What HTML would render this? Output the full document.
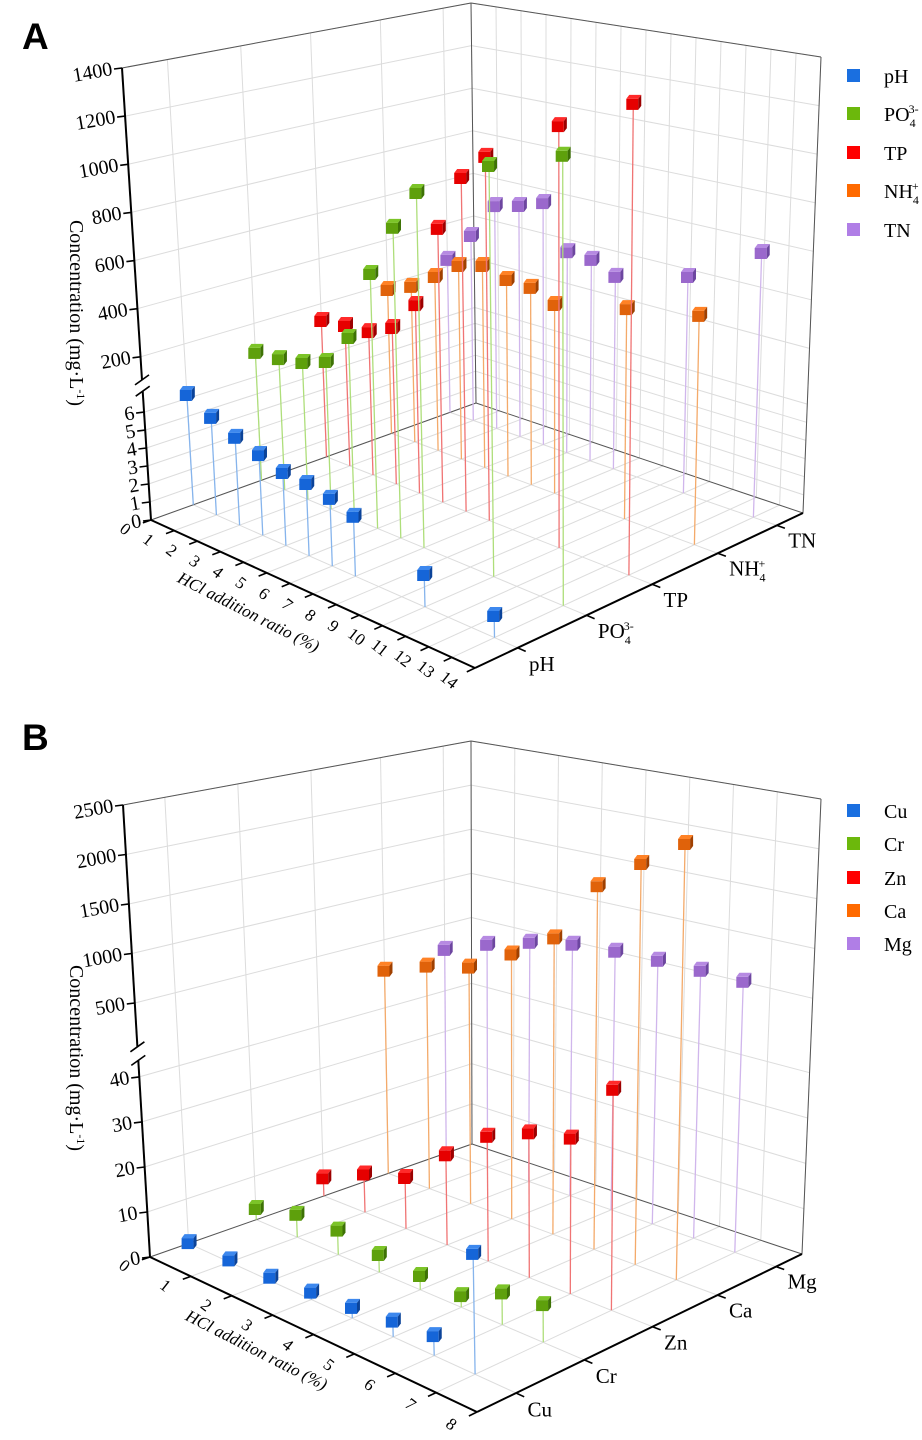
<!DOCTYPE html>
<html><head><meta charset="utf-8"><style>
html,body{margin:0;padding:0;background:#fff;}
svg{display:block;font-family:"Liberation Serif",serif;}
</style></head><body>
<svg id="root" width="922" height="1440" viewBox="0 0 922 1440" xmlns="http://www.w3.org/2000/svg">
<text x="22" y="49" font-family="Liberation Sans, sans-serif" font-weight="bold" font-size="37">A</text>
<text x="22" y="750" font-family="Liberation Sans, sans-serif" font-weight="bold" font-size="37">B</text>
<g id="chartA"></g>
<g id="chartB"></g>
</svg>
<script>
// ---- Chart A data ----
const A_x = [0,1,2,3,4,5,6,7,10,13];
const A_pH = [6.25,5.48,4.89,4.46,4.0,3.92,3.63,3.19,1.69,1.13];
const A_PO4 = [77,86,105,144,278,574,792,960,1141,1248];
const A_TP = [128,140,147,198,328,680,920,1032,1225,1374];
const A_NH4 = [178,224,299,378,407,375,370,326,393,446];
const A_TN = [235,375,540,567,606,414,407,360,439,613];
const A_categories = ["pH","PO4","TP","NH4","TN"];
const A_xTicks = [0,1,2,3,4,5,6,7,8,9,10,11,12,13,14];
const A_yTicksLow = [0,1,2,3,4,5,6];
const A_yTicksHigh = [200,400,600,800,1000,1200,1400];
// ---- Chart B data ----
const B_x = [0,1,2,3,4,5,6,7];
const B_Cu = [0.3,0.6,0.9,1.7,2.4,3.4,4.2,24.5];
const B_Cr = [2.7,5.3,5.6,4.0,3.2,2.6,6.8,7.9];
const B_Zn = [4.4,9.0,11.8,20.4,27.8,31.7,33.6,46.9];
const B_Ca = [171,344,457,714,995,1634,1953,2242];
const B_Mg = [225,401,539,630,665,677,680,672];
const B_categories = ["Cu","Cr","Zn","Ca","Mg"];
const B_xTicks = [0,1,2,3,4,5,6,7,8];
const B_yTicksLow = [0,10,20,30,40];
const B_yTicksHigh = [500,1000,1500,2000,2500];

const NS = "http://www.w3.org/2000/svg";
const COLORS = [
  {front:"#1565d8", top:"#3d88ee", side:"#0b4399", stick:"#86b4ec", legend:"#1a6fe0"},
  {front:"#5ea00c", top:"#7cc428", side:"#3d7205", stick:"#aede7a", legend:"#6cb80c"},
  {front:"#e60000", top:"#ff2a2a", side:"#9c0000", stick:"#f07474", legend:"#ff0000"},
  {front:"#e0620a", top:"#ff8226", side:"#a04000", stick:"#f4aa6a", legend:"#ff6a00"},
  {front:"#9a68cc", top:"#b68ae2", side:"#6d46a0", stick:"#d0b6ec", legend:"#b07ee6"}
];

function el(parent, tag, attrs) {
  const e = document.createElementNS(NS, tag);
  for (const k in attrs) e.setAttribute(k, attrs[k]);
  parent.appendChild(e);
  return e;
}

function drawChart(g, cfg, xs, series, cats, xTicks, yLow, yHigh, legendY) {
  const P = (u, s, h) => {
    const bl = (C) => [
      (1-u)*(1-s)*C.L[0] + u*(1-s)*C.F[0] + u*s*C.R[0] + (1-u)*s*C.B[0],
      (1-u)*(1-s)*C.L[1] + u*(1-s)*C.F[1] + u*s*C.R[1] + (1-u)*s*C.B[1]];
    const b = bl(cfg.bot), t = bl(cfg.top);
    return [b[0] + h*(t[0]-b[0]), b[1] + h*(t[1]-b[1])];
  };
  const fr = (v) => v <= cfg.lowMax ? v*cfg.lowStep : cfg.hiBase + (v - cfg.hiV0)/cfg.hiDv*cfg.hiStep;
  const xu = (x) => x / cfg.xMax;
  const line = (a, b, stroke, w, name) => {
    const l = el(g, "line", {x1:a[0].toFixed(1), y1:a[1].toFixed(1), x2:b[0].toFixed(1), y2:b[1].toFixed(1), stroke:stroke, "stroke-width":w});
    
    
    return l;
  };
  const grid = "#dcdcdc";
  const yAll = yLow.filter(v => v > 0).concat(yHigh);
  yAll.forEach(v => {
    const f = fr(v);
    line(P(0,0,f), P(0,1,f), grid, 1, 'left-wall-gridline');
    line(P(0,1,f), P(1,1,f), grid, 1, 'back-wall-gridline');
  });
  xTicks.forEach(t => { line(P(xu(t),1,0), P(xu(t),1,1), grid, 1, 'back-wall-vertical-gridline'); });
  cfg.sPos.forEach(s => { line(P(0,s,0), P(0,s,1), grid, 1, 'left-wall-vertical-gridline'); });
  xTicks.forEach(t => { line(P(xu(t),0,0), P(xu(t),1,0), grid, 1, 'floor-gridline'); });
  cfg.sPos.forEach(s => { line(P(0,s,0), P(1,s,0), grid, 1, 'floor-gridline'); });
  const edge = "#555";
  line(P(0,0,1), P(0,1,1), edge, 1, 'box-edge');
  line(P(0,1,1), P(1,1,1), edge, 1, 'box-edge');
  line(P(0,1,0), P(0,1,1), edge, 1, 'box-edge');
  line(P(1,1,0), P(1,1,1), edge, 1, 'box-edge');
  line(P(0,0,0), P(0,1,0), edge, 1, 'box-edge');
  line(P(0,1,0), P(1,1,0), edge, 1, 'box-edge');
  line(P(0,0,0), P(1,0,0), "#000", 2, 'x-axis-line');
  line(P(1,0,0), P(1,1,0), "#000", 2, 'category-axis-line');
  line(P(0,0,0), P(0,0,cfg.brLo), "#000", 2, 'y-axis-line-lower');
  line(P(0,0,cfg.brHi), P(0,0,1), "#000", 2, 'y-axis-line-upper');
  [cfg.brLo, cfg.brHi].forEach(f => {
    const p = P(0,0,f);
    line([p[0]-7,p[1]+5], [p[0]+7,p[1]-5], "#000", 1.6, 'axis-break-mark');
  });
  yLow.concat(yHigh).forEach(v => {
    const p = P(0,0,fr(v));
    line([p[0]-8,p[1]+1], p, "#000", 1.6, 'y-tick');
    const t = el(g, "text", {x:(p[0]-10).toFixed(1), y:(p[1]+7).toFixed(1), "text-anchor":"end", "font-size":"20",
      transform:`rotate(-10 ${(p[0]-10).toFixed(1)} ${p[1].toFixed(1)})`});
    t.textContent = v;
    
    
  });
  xTicks.forEach(v => {
    const a = P(xu(v),0,0), b = P(xu(v),-0.025,0);
    line(a, b, "#000", 1.6, 'x-tick');
    const q = P(xu(v),-0.08,0);
    const t = el(g, "text", {x:q[0].toFixed(1), y:(q[1]+5).toFixed(1), "text-anchor":"middle", "font-size":"17",
      transform:`rotate(38 ${q[0].toFixed(1)} ${q[1].toFixed(1)})`});
    t.textContent = v;
    
    
  });
  cfg.sPos.forEach((s, i) => {
    const a = P(1,s,0), b = P(1.025,s,0);
    line(a, b, "#000", 1.6, 'category-tick');
    const q = P(1.035,s,0);
    const t = el(g, "text", {x:q[0].toFixed(1), y:(q[1]+18).toFixed(1), "font-size":"21"});
    
    
    fillLabel(t, cats[i]);
  });
  const yt = el(g, "text", {x:cfg.yTitle[0], y:cfg.yTitle[1], "text-anchor":"middle", "font-size":"20",
    transform:`rotate(90 ${cfg.yTitle[0]} ${cfg.yTitle[1]})`});
  
  
  yt.innerHTML = 'Concentration (mg·L<tspan dy="-7" font-size="12">-1</tspan><tspan dy="7">)</tspan>';
  const xt = el(g, "text", {x:cfg.xTitle[0], y:cfg.xTitle[1], "text-anchor":"middle", "font-size":"17", "font-style":"italic",
    transform:`rotate(27 ${cfg.xTitle[0]} ${cfg.xTitle[1]})`});
  
  
  xt.textContent = 'HCl addition ratio (%)';
  const pts = [];
  series.forEach((vals, si) => {
    vals.forEach((v, i) => pts.push({si, u: xu(xs[i]), s: cfg.sPos[si], v}));
  });
  pts.sort((a, b) => (b.s - b.u) - (a.s - a.u));
  pts.forEach(pt => {
    const c = COLORS[pt.si];
    const base = P(pt.u, pt.s, 0), top = P(pt.u, pt.s, fr(pt.v));
    line(base, top, c.stick, 1.3, 'stem-' + cats[pt.si]);
    const cx = top[0], cy = top[1];
    const cube = el(g, "g", {});
    
    
    el(cube, "rect", {x:(cx-7).toFixed(1), y:(cy-4).toFixed(1), width:12, height:11, fill:c.front});
    el(cube, "polygon", {points:`${cx-7},${cy-4} ${cx+5},${cy-4} ${cx+8},${cy-8} ${cx-4},${cy-8}`, fill:c.top});
    el(cube, "polygon", {points:`${cx+5},${cy-4} ${cx+8},${cy-8} ${cx+8},${cy+3} ${cx+5},${cy+7}`, fill:c.side});
  });
  legendY.forEach((y, i) => {
    const r = el(g, "rect", {x:847, y:y-7, width:13, height:13, fill:COLORS[i].legend});
    
    
    const t = el(g, "text", {x:884, y:y+7, "font-size":"20"});
    
    
    fillLabel(t, cats[i]);
  });
}

function fillLabel(t, name) {
  if (name === "PO4") t.innerHTML = 'PO<tspan dy="6" font-size="12">4</tspan><tspan dx="-7" dy="-14" font-size="12">3-</tspan>';
  else if (name === "NH4") t.innerHTML = 'NH<tspan dy="6" font-size="12">4</tspan><tspan dx="-7" dy="-14" font-size="12">+</tspan>';
  else t.textContent = name;
}

drawChart(document.getElementById("chartA"), {
  bot:{L:[151,520], F:[475,668], R:[803,513], B:[476,403]},
  top:{L:[122,68], F:[467,153], R:[821,57], B:[471,3]},
  xMax:14, sPos:[0.13,0.34,0.54,0.74,0.92],
  lowMax:10, lowStep:0.0398, hiBase:0.361, hiV0:200, hiDv:200, hiStep:0.1065,
  brLo:0.285, brHi:0.31, yTitle:[70,313], xTitle:[246,617]
}, A_x, [A_pH, A_PO4, A_TP, A_NH4, A_TN], A_categories, A_xTicks, A_yTicksLow, A_yTicksHigh, [76,114,153,191,230]);

drawChart(document.getElementById("chartB"), {
  bot:{L:[150,1257], F:[477,1412], R:[802,1254], B:[472,1144]},
  top:{L:[123,805], F:[468,900], R:[821,799], B:[471,741]},
  xMax:8, sPos:[0.12,0.33,0.54,0.74,0.92],
  lowMax:60, lowStep:0.00996, hiBase:0.562, hiV0:500, hiDv:500, hiStep:0.1095,
  brLo:0.435, brHi:0.465, yTitle:[70,1058], xTitle:[254,1355]
}, B_x, [B_Cu, B_Cr, B_Zn, B_Ca, B_Mg], B_categories, B_xTicks, B_yTicksLow, B_yTicksHigh, [811,844,878,911,944]);
</script>
</body></html>
